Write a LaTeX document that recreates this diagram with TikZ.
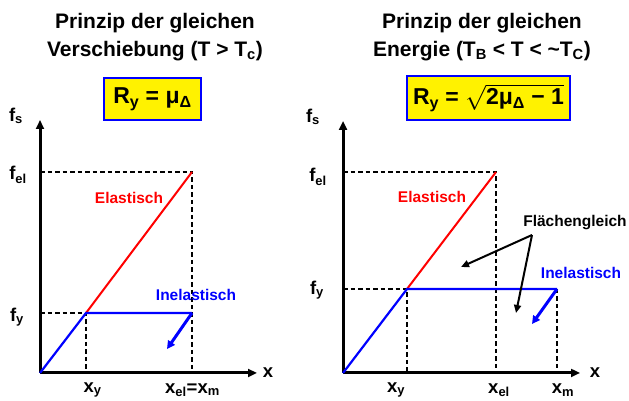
\documentclass[tikz,border=0pt]{standalone}
\usepackage{fontspec}
\setmainfont{Liberation Sans}
\usepackage{amsmath}
\usetikzlibrary{arrows.meta}
\newcommand{\sub}[1]{\textsubscript{#1}}

\begin{document}
\begin{tikzpicture}[
    x=1pt, y=1pt,
    font=\bfseries,
    axisArr/.style={-{Triangle[length=9pt,width=8pt]}, line width=3pt},
    guide/.style={line width=1.5pt, dash pattern=on 4.5pt off 3pt},
    elast/.style={red, line width=2pt},
    inelast/.style={blue, line width=2.2pt},
    unload/.style={-{Triangle[length=8pt,width=8pt]}, blue, line width=3pt},
    pointer/.style={-{Triangle[length=8pt,width=7pt]}, line width=2pt},
    titleText/.style={align=center, font=\bfseries\fontsize{21}{28}\selectfont},
    formula/.style={draw=blue, line width=2pt, fill=yellow, font=\bfseries\fontsize{23}{26}\selectfont, inner sep=0pt},
    axLbl/.style={font=\bfseries\fontsize{18.5}{20}\selectfont},
    curveLbl/.style={font=\bfseries\fontsize{15.5}{18}\selectfont}
]
\useasboundingbox (0,0) rectangle (629,401);

% left: equal displacement
\node[titleText] (titleL) at (155,364) {Prinzip der gleichen\\Verschiebung (T > T\sub{c})};
\node[formula, minimum width=97pt, minimum height=42pt] (formulaL) at (152.5,302) {R\sub{y} = μ\sub{Δ}};

\coordinate (oL) at (40,28);
\coordinate (yTopL) at (40,281);
\coordinate (xEndL) at (257,28);
\coordinate (yieldL) at (86,88);
\coordinate (elL) at (192,229);
\coordinate (mL) at (192,88);
\coordinate (backL) at (167,52);

\draw[guide] (oL |- elL) -- (elL) -- (elL |- oL);
\draw[guide] (oL |- yieldL) -- (yieldL) -- (yieldL |- oL);
\draw[axisArr] (oL) -- (yTopL);
\draw[axisArr] (oL) -- (xEndL);
\draw[elast] (yieldL) -- (elL);
\draw[inelast] (oL) -- (yieldL) -- (mL);
\draw[unload] (mL) -- (backL);

\node[axLbl] (fsL) at (16,285) {f\sub{s}};
\node[axLbl] (felL) at (18,226) {f\sub{el}};
\node[axLbl] (fyL) at (17,84) {f\sub{y}};
\node[axLbl] (xL) at (268,28) {x};
\node[axLbl] (xyL) at (92.5,11) {x\sub{y}};
\node[axLbl] (xmL) at (192.5,11) {x\sub{el}=x\sub{m}};
\node[curveLbl, red] (elastL) at (129,203) {Elastisch};
\node[curveLbl, blue] (inelastL) at (196,106) {Inelastisch};

% right: equal energy
\node[titleText] (titleR) at (482,364) {Prinzip der gleichen\\Energie (T\sub{B} < T < \textasciitilde T\sub{C})};
\node[formula, minimum width=163pt, minimum height=44pt] (formulaR) at (488.5,303)
    {R\sub{y} = $\sqrt{\hbox{2μ\sub{Δ} − 1}}$};

\coordinate (oR) at (343,28);
\coordinate (yTopR) at (343,280);
\coordinate (xEndR) at (580,28);
\coordinate (yieldR) at (407,112);
\coordinate (elR) at (496,229);
\coordinate (mR) at (557,112);
\coordinate (backR) at (532,77);

\draw[guide] (oR |- elR) -- (elR) -- (elR |- oR);
\draw[guide] (oR |- yieldR) -- (yieldR) -- (yieldR |- oR);
\draw[guide] (mR) -- (mR |- oR);
\draw[axisArr] (oR) -- (yTopR);
\draw[axisArr] (oR) -- (xEndR);
\draw[elast] (yieldR) -- (elR);
\draw[inelast] (oR) -- (yieldR) -- (mR);
\draw[unload] (mR) -- (backR);

\node[axLbl] (fsR) at (313,284) {f\sub{s}};
\node[axLbl] (felR) at (318,224) {f\sub{el}};
\node[axLbl] (fyR) at (317,111) {f\sub{y}};
\node[axLbl] (xR) at (595,28) {x};
\node[axLbl] (xyR) at (396,11) {x\sub{y}};
\node[axLbl] (xelR) at (499,11) {x\sub{el}};
\node[axLbl] (xmR) at (563,11) {x\sub{m}};
\node[curveLbl, red] (elastR) at (432,204) {Elastisch};
\node[curveLbl, blue] (inelastR) at (581,128) {Inelastisch};
\node[curveLbl] (areaLbl) at (575,178) {Flächengleich};

\coordinate (areaFork) at (532,166);
\coordinate (areaUp) at (461,134);
\coordinate (areaDown) at (516,88);
\draw[pointer] (areaFork) -- (areaUp);
\draw[pointer] (areaFork) -- (areaDown);
\end{tikzpicture}
\end{document}
